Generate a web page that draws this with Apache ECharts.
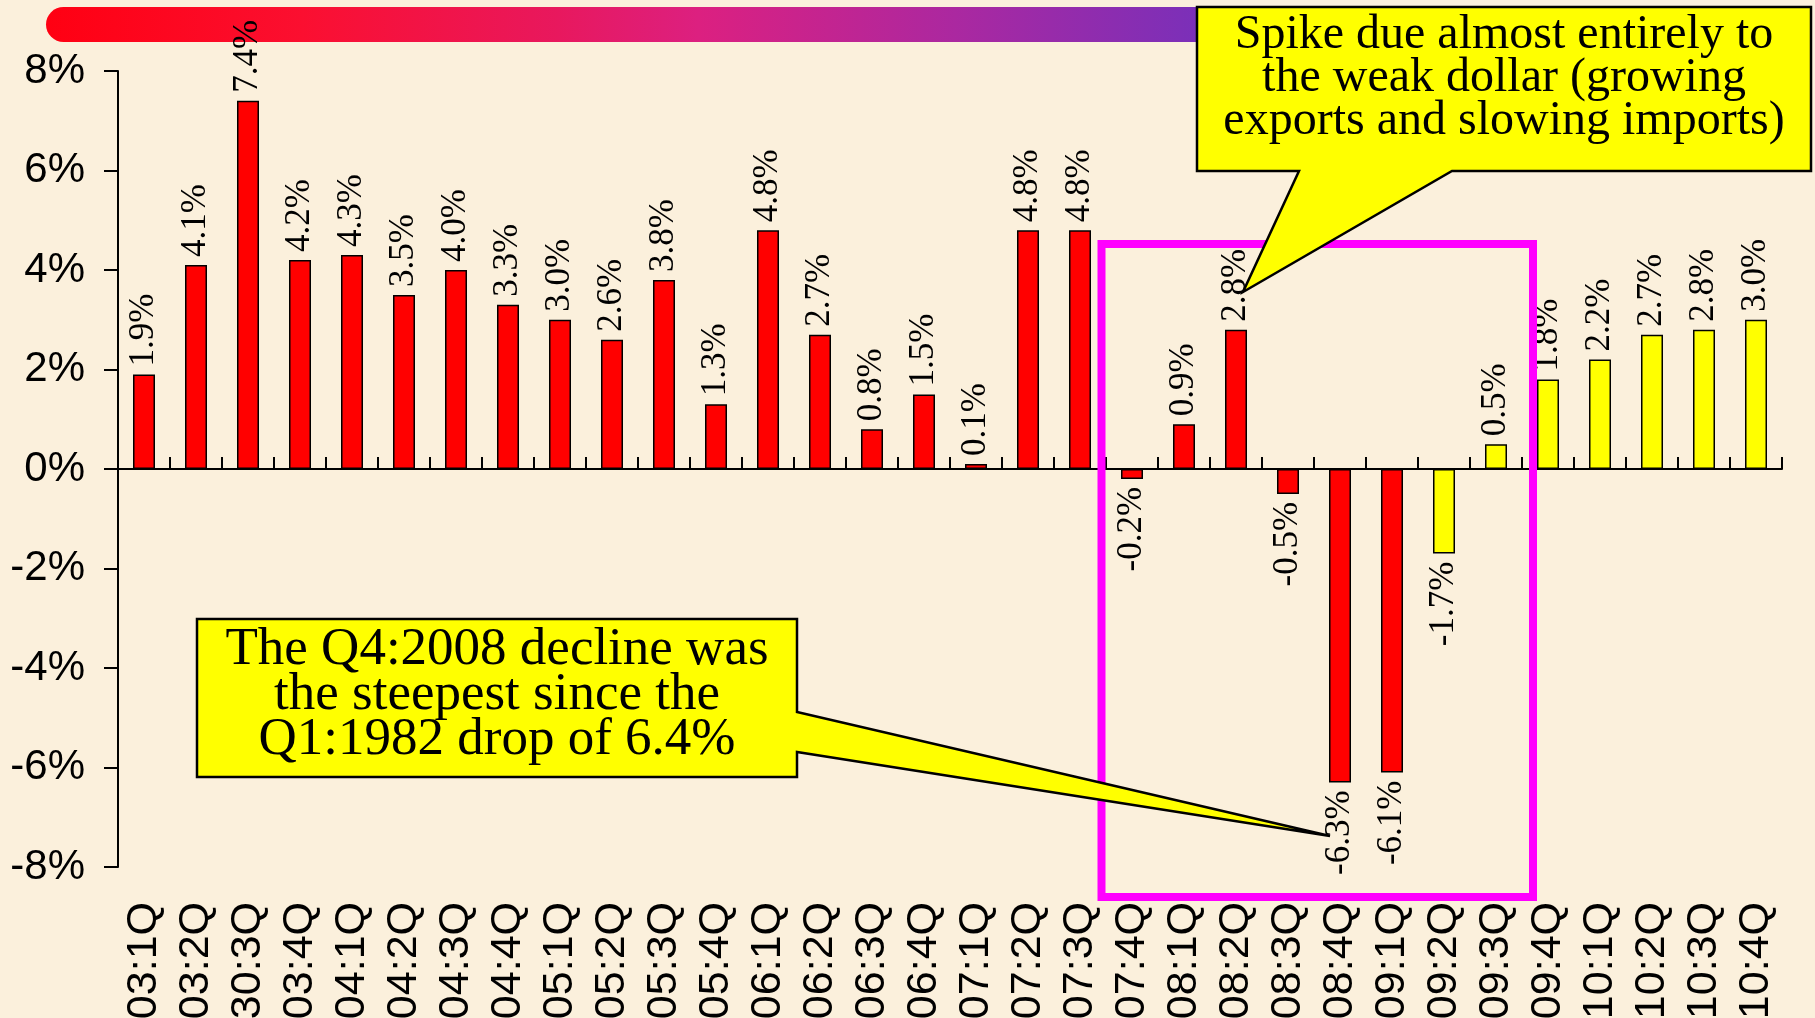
<!DOCTYPE html>
<html>
<head>
<meta charset="utf-8">
<script src="https://cdn.jsdelivr.net/npm/echarts@6/dist/echarts.min.js"></script>
<style>
  html, body { margin: 0; padding: 0; background: #fbf0dc; }
  #chart { width: 1815px; height: 1018px; }
</style>
</head>
<body>
<div id="chart"></div>
<script>
// quarter labels (the "30:3Q" typo is in the original slide)
const quarters = ['03:1Q', '03:2Q', '30:3Q', '03:4Q', '04:1Q', '04:2Q', '04:3Q', '04:4Q',
  '05:1Q', '05:2Q', '05:3Q', '05:4Q', '06:1Q', '06:2Q', '06:3Q', '06:4Q',
  '07:1Q', '07:2Q', '07:3Q', '07:4Q', '08:1Q', '08:2Q', '08:3Q', '08:4Q',
  '09:1Q', '09:2Q', '09:3Q', '09:4Q', '10:1Q', '10:2Q', '10:3Q', '10:4Q'];
// real GDP growth, % annualised
const growth = [1.9, 4.1, 7.4, 4.2, 4.3, 3.5, 4.0, 3.3,
  3.0, 2.6, 3.8, 1.3, 4.8, 2.7, 0.8, 1.5,
  0.1, 4.8, 4.8, -0.2, 0.9, 2.8, -0.5, -6.3,
  -6.1, -1.7, 0.5, 1.8, 2.2, 2.7, 2.8, 3.0];
// forecast quarters drawn in yellow
const forecastQuarters = ['09:2Q', '09:3Q', '09:4Q', '10:1Q', '10:2Q', '10:3Q', '10:4Q'];
const yTicks = [-8, -6, -4, -2, 0, 2, 4, 6, 8];

const barData = growth.map((v, i) => ({
  value: v,
  itemStyle: { color: forecastQuarters.includes(quarters[i]) ? '#ffff00' : '#ff0000' },
  label: v < 0 ? { position: 'bottom', align: 'right' } : { position: 'top', align: 'left' }
}));

const serif = '"Liberation Serif", "Times New Roman", serif';
const sans = '"Liberation Sans", Arial, sans-serif';

function line(txt, x, y, size) {
  return {
    type: 'text', x: x, y: y, z: 120, silent: true,
    style: { text: txt, font: size + 'px ' + serif, fill: '#000', align: 'center', verticalAlign: 'middle' }
  };
}

const gridBox = { left: 118, right: 33, top: 71, bottom: 151, containLabel: false, outerBoundsMode: 'none' };

let myChart = echarts.init(document.getElementById('chart'));
let option = {
  backgroundColor: '#fbf0dc',
  animation: false,
  // grid 1 only carries the quarter labels under the plot
  grid: [gridBox, Object.assign({}, gridBox)],
  xAxis: [{
    type: 'category',
    data: quarters,
    position: 'bottom',
    axisLine: { onZero: true, lineStyle: { color: '#000', width: 2 } },
    axisTick: { length: 14, lineStyle: { color: '#000', width: 2 } },
    axisLabel: { show: false }
  }, {
    type: 'category',
    data: quarters,
    position: 'top',
    offset: -398,
    axisLine: { show: false, onZero: false },
    axisTick: { show: true, length: 12, lineStyle: { color: '#000', width: 2 } },
    axisLabel: { show: false }
  }, {
    type: 'category',
    gridIndex: 1,
    data: quarters,
    position: 'bottom',
    axisLine: { show: false, onZero: false },
    axisTick: { show: false },
    axisLabel: {
      interval: 0, rotate: 90, margin: 35,
      fontFamily: sans, fontSize: 43, color: '#000'
    }
  }],
  yAxis: [{
    type: 'value',
    min: yTicks[0],
    max: yTicks[yTicks.length - 1],
    interval: 2,
    splitLine: { show: false },
    axisLine: { show: true, lineStyle: { color: '#000', width: 2 } },
    axisTick: { show: true, length: 14, lineStyle: { color: '#000', width: 2 } },
    axisLabel: {
      margin: 33, formatter: '{value}%',
      fontFamily: sans, fontSize: 42, color: '#000'
    }
  }, {
    type: 'value', gridIndex: 1, show: false,
    min: yTicks[0], max: yTicks[yTicks.length - 1]
  }],
  series: [{
    type: 'bar',
    data: barData,
    barWidth: 22,
    itemStyle: { borderColor: '#000', borderWidth: 1.5 },
    emphasis: { disabled: true },
    label: {
      show: true, rotate: 90, verticalAlign: 'middle', distance: 8,
      fontFamily: serif, fontSize: 35, color: '#000',
      formatter: p => p.value.toFixed(1) + '%'
    }
  }],
  graphic: [
    {
      type: 'rect', z: 1, silent: true,
      shape: { x: 46, y: 7, width: 1165, height: 35, r: [17.5, 0, 0, 17.5] },
      style: {
        fill: new echarts.graphic.LinearGradient(0, 0, 1, 0, [
          { offset: 0, color: '#ff0012' },
          { offset: 0.22, color: '#fb0f30' },
          { offset: 0.44, color: '#e8185e' },
          { offset: 0.56, color: '#dc2080' },
          { offset: 0.78, color: '#ab28a0' },
          { offset: 1, color: '#7830ba' }
        ])
      }
    },
    {
      // highlight box round the recession quarters
      type: 'rect', z: 90, silent: true,
      shape: { x: 1101.5, y: 244, width: 431.5, height: 653 },
      style: { fill: 'none', stroke: '#ff00ff', lineWidth: 8 }
    },
    {
      type: 'polygon', z: 110, silent: true,
      shape: { points: [[1197, 7], [1811, 7], [1811, 171], [1452, 171], [1243, 292], [1299, 171], [1197, 171]] },
      style: { fill: '#ffff00', stroke: '#000', lineWidth: 2.5 }
    },
    line('Spike due almost entirely to', 1504, 35, 48),
    line('the weak dollar (growing', 1504, 78, 48),
    line('exports and slowing imports)', 1504, 121, 48),
    {
      type: 'polygon', z: 110, silent: true,
      shape: { points: [[197, 619], [797, 619], [797, 712], [1330, 836], [797, 752], [797, 777], [197, 777]] },
      style: { fill: '#ffff00', stroke: '#000', lineWidth: 2.5 }
    },
    line('The Q4:2008 decline was', 497, 650, 53),
    line('the steepest since the', 497, 695, 53),
    line('Q1:1982 drop of 6.4%', 497, 740, 53)
  ]
};
myChart.setOption(option);
</script>
</body>
</html>
